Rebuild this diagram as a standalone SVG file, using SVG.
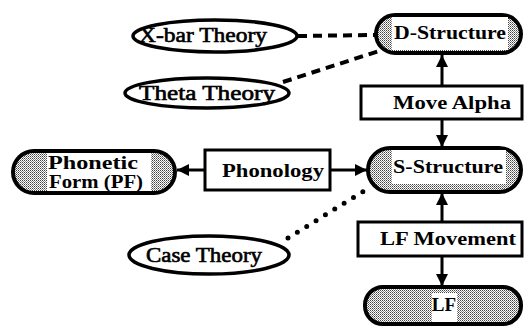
<svg xmlns="http://www.w3.org/2000/svg" width="525" height="327" viewBox="0 0 525 327">
<defs>
<pattern id="stip" width="2" height="2" patternUnits="userSpaceOnUse">
<rect width="2" height="2" fill="#fff"/>
<rect width="1" height="1" fill="#444"/>
<rect x="1" y="1" width="1" height="1" fill="#888"/>
</pattern>
<marker id="ah2" viewBox="0 0 10 10" refX="10" refY="5" markerWidth="14" markerHeight="12" orient="auto" markerUnits="userSpaceOnUse">
<path d="M0,0 L10,5 L0,10 z" fill="#000"/>
</marker>
</defs>
<style>
.ell{fill:#fff;stroke:#000;stroke-width:3.5}
.box{fill:#fff;stroke:#000;stroke-width:3}
.pill{fill:url(#stip);stroke:#000;stroke-width:4}
.wh{fill:#fff}
.t{font-family:"Liberation Serif",serif;font-size:19px;font-weight:bold;fill:#000;text-anchor:middle}
.te{font-family:"Liberation Serif",serif;font-size:20px;fill:#000;text-anchor:middle;stroke:#000;stroke-width:0.6}
.tl{font-family:"Liberation Serif",serif;font-size:19px;font-weight:bold;fill:#000}
.arr{stroke:#000;stroke-width:3;fill:none;marker-end:url(#ah2)}
.dash{stroke:#000;stroke-width:4;fill:none;stroke-dasharray:9 6}
.dot{stroke:#000;stroke-width:5;fill:none;stroke-dasharray:0 11;stroke-linecap:round}
</style>
<g id="connectors">
<line class="dash" x1="298" y1="36" x2="376" y2="35"/>
<line class="dash" x1="283" y1="82" x2="382" y2="50"/>
<line class="dot" x1="288" y1="238" x2="372" y2="186"/>
<line class="arr" x1="442" y1="86" x2="442" y2="55"/>
<line class="arr" x1="442" y1="119" x2="442" y2="147"/>
<line class="arr" x1="205" y1="170" x2="177" y2="170"/>
<line class="arr" x1="330" y1="170" x2="367" y2="170"/>
<line class="arr" x1="442" y1="222" x2="442" y2="193"/>
<line class="arr" x1="442" y1="256" x2="442" y2="286"/>
</g>
<g id="xbar">
<ellipse class="ell" cx="215" cy="36" rx="82" ry="16"/>
<text class="te" x="203" y="42" textLength="128" lengthAdjust="spacingAndGlyphs">X-bar Theory</text>
</g>
<g id="theta">
<ellipse class="ell" cx="207" cy="93" rx="82" ry="15"/>
<text class="te" x="207" y="100" textLength="136" lengthAdjust="spacingAndGlyphs">Theta Theory</text>
</g>
<g id="case">
<ellipse class="ell" cx="209" cy="255" rx="80" ry="19"/>
<text class="te" x="204" y="262" textLength="116" lengthAdjust="spacingAndGlyphs">Case Theory</text>
</g>
<g id="dstructure">
<rect class="pill" x="376" y="15" width="145" height="38" rx="19"/>
<rect class="wh" x="392" y="17" width="116" height="33"/>
<text class="t" x="450" y="39" textLength="112" lengthAdjust="spacingAndGlyphs">D-Structure</text>
</g>
<g id="movealpha">
<rect class="box" x="361" y="86" width="161" height="33"/>
<text class="t" x="452" y="109" textLength="118" lengthAdjust="spacingAndGlyphs">Move Alpha</text>
</g>
<g id="sstructure">
<rect class="pill" x="368" y="148" width="153" height="44" rx="22"/>
<rect class="wh" x="392" y="150" width="114" height="34"/>
<text class="t" x="448" y="173" textLength="110" lengthAdjust="spacingAndGlyphs">S-Structure</text>
</g>
<g id="phonology">
<rect class="box" x="205" y="150" width="125" height="40"/>
<text class="t" x="273" y="177" textLength="102" lengthAdjust="spacingAndGlyphs">Phonology</text>
</g>
<g id="phonetic">
<rect class="pill" x="13" y="151" width="162" height="42" rx="21"/>
<rect class="wh" x="47" y="153" width="104" height="38"/>
<text class="tl" x="48" y="169" textLength="90" lengthAdjust="spacingAndGlyphs">Phonetic</text>
<text class="tl" x="49" y="188" textLength="94" lengthAdjust="spacingAndGlyphs">Form (PF)</text>
</g>
<g id="lfmovement">
<rect class="box" x="358" y="222" width="164" height="34"/>
<text class="t" x="448" y="245" textLength="136" lengthAdjust="spacingAndGlyphs">LF Movement</text>
</g>
<g id="lf">
<rect class="pill" x="365" y="287" width="156" height="37" rx="18"/>
<rect class="wh" x="432" y="293" width="25" height="29"/>
<text class="t" x="444" y="311">LF</text>
</g>
</svg>
